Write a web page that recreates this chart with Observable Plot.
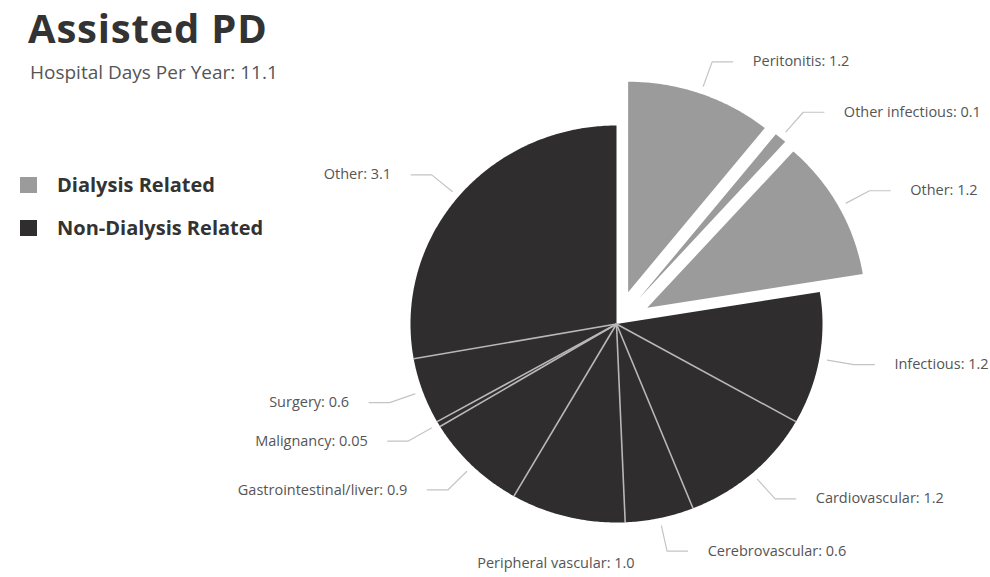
<!DOCTYPE html>
<html>
<head>
<meta charset="utf-8">
<script src="https://cdn.jsdelivr.net/npm/d3@7"></script>
<script src="https://cdn.jsdelivr.net/npm/@observablehq/plot@0.6"></script>
<style>
  body { margin: 0; background: #fff; font-family: "Open Sans", sans-serif; }
  #wrap { position: relative; width: 990px; height: 577px; }
  #chart { position: absolute; left: 0; top: 0; }
  .title { position: absolute; left: 28px; top: 0px; font-size: 40px; line-height: normal; letter-spacing: 0.8px; font-weight: 700; color: #333; white-space: nowrap; }
  .subtitle { position: absolute; left: 30px; top: 63px; font-size: 19px; line-height: 1; color: #555; white-space: nowrap; }
  .legend-item { position: absolute; left: 20px; height: 20px; font-size: 20px; line-height: 1; font-weight: 700; color: #333; white-space: nowrap; }
  .legend-item .sw { position: absolute; left: 0; top: 2px; width: 17px; height: 16px; }
  .legend-item .lbl { position: absolute; left: 37px; top: 0; }
</style>
</head>
<body>
<div id="wrap">
  <div id="chart"></div>
</div>
<script>
// ---- data ----
const title = "Assisted PD";
const subtitle = "Hospital Days Per Year: 11.1";
const categories = ["Peritonitis", "Other infectious", "Other", "Infectious", "Cardiovascular", "Cerebrovascular", "Peripheral vascular", "Gastrointestinal/liver", "Malignancy", "Surgery", "Other"];
const values = [1.2, 0.1, 1.2, 1.2, 1.2, 0.6, 1.0, 0.9, 0.05, 0.6, 3.1];
const valueLabels = ["1.2", "0.1", "1.2", "1.2", "1.2", "0.6", "1.0", "0.9", "0.05", "0.6", "3.1"];
const groups = ["Dialysis Related", "Dialysis Related", "Dialysis Related", "Non-Dialysis Related", "Non-Dialysis Related", "Non-Dialysis Related", "Non-Dialysis Related", "Non-Dialysis Related", "Non-Dialysis Related", "Non-Dialysis Related", "Non-Dialysis Related"];
const legendGroups = ["Dialysis Related", "Non-Dialysis Related"];
const groupColors = ["#9b9b9b", "#2f2d2e"];

// ---- layout constants ----
const OFFSET = 0.17;   // explode distance (in radius units)
const RX = 1.06;       // radius of exploded slices
const HSEG = 0.1;      // horizontal part of leader

// ---- pie geometry ----
const pie = d3.pie().sort(null).value(i => values[i])(d3.range(values.length));
const slices = pie.map(p => {
  const i = p.data;
  return {
    i, name: categories[i], group: groups[i],
    label: categories[i] + ": " + valueLabels[i],
    a0: p.startAngle, a1: p.endAngle, mid: (p.startAngle + p.endAngle) / 2,
    exploded: groups[i] === legendGroups[0]
  };
});

const polyPts = [];
for (const s of slices) {
  const o = s.exploded ? OFFSET : 0, r = s.exploded ? RX : 1;
  const ox = o * Math.sin(s.mid), oy = o * Math.cos(s.mid);
  polyPts.push({key: s.i, group: s.group, x: ox, y: oy});
  const n = Math.max(2, Math.ceil((s.a1 - s.a0) / 0.01));
  for (let k = 0; k <= n; k++) {
    const a = s.a0 + (s.a1 - s.a0) * k / n;
    polyPts.push({key: s.i, group: s.group, x: ox + r * Math.sin(a), y: oy + r * Math.cos(a)});
  }
}

// separators between adjacent non-exploded slices
const seps = [];
for (let k = 1; k < slices.length; k++) {
  if (!slices[k].exploded && !slices[k - 1].exploded) {
    const a = slices[k].a0;
    seps.push({x1: 0, y1: 0, x2: Math.sin(a), y2: Math.cos(a)});
  }
}

// labels and leaders
const leaderPts = [];
const labels = [];
for (const s of slices) {
  const rb = s.exploded ? OFFSET + RX : 1;
  const sn = Math.sin(s.mid), cs = Math.cos(s.mid);
  const side = sn > 0.15 ? "start" : sn < -0.3 ? "end" : "middle";
  if (side === "middle") {
    const rt = rb + 0.24;
    labels.push({x: rt * sn, y: rt * cs, text: s.label, side});
    continue;
  }
  const r1 = rb + 0.04, r2 = rb + 0.17;
  const ex = r2 * sn, ey = r2 * cs;
  const hx = ex + (side === "start" ? HSEG : -HSEG);
  leaderPts.push({key: s.i, x: r1 * sn, y: r1 * cs});
  leaderPts.push({key: s.i, x: ex, y: ey});
  leaderPts.push({key: s.i, x: hx, y: ey});
  labels.push({x: hx, y: ey, text: s.label, side});
}

const textStyle = {fontSize: 14.5, fill: "#555", fontFamily: "Open Sans, sans-serif"};

const chart = Plot.plot({
  width: 990,
  height: 577,
  margin: 0,
  style: {background: "transparent", fontFamily: "Open Sans, sans-serif"},
  x: {domain: [-1, 1], range: [410, 822], axis: null},
  y: {domain: [-1, 1], range: [522, 125], axis: null},
  color: {domain: legendGroups, range: groupColors},
  marks: [
    Plot.line(polyPts, {x: "x", y: "y", z: "key", fill: "group", stroke: "none", curve: "linear-closed"}),
    Plot.link(seps, {x1: "x1", y1: "y1", x2: "x2", y2: "y2", stroke: "#b8b8b8", strokeWidth: 1.6}),
    Plot.line(leaderPts, {x: "x", y: "y", z: "key", stroke: "#c4c4c4", strokeWidth: 1.2}),
    Plot.text(labels.filter(d => d.side === "start"), {x: "x", y: "y", text: "text", textAnchor: "start", dx: 20, ...textStyle}),
    Plot.text(labels.filter(d => d.side === "end"), {x: "x", y: "y", text: "text", textAnchor: "end", dx: -20, ...textStyle}),
    Plot.text(labels.filter(d => d.side === "middle"), {x: "x", y: "y", text: "text", textAnchor: "middle", ...textStyle})
  ]
});

const wrap = document.getElementById("wrap");
document.getElementById("chart").appendChild(chart);

const t = document.createElement("div"); t.className = "title"; t.textContent = title; wrap.appendChild(t);
const st = document.createElement("div"); st.className = "subtitle"; st.textContent = subtitle; wrap.appendChild(st);
const color = chart.scale("color");
legendGroups.forEach((g, k) => {
  const item = document.createElement("div");
  item.className = "legend-item";
  item.style.top = (175 + k * 43) + "px";
  const sw = document.createElement("span"); sw.className = "sw"; sw.style.background = color.apply(g);
  const lb = document.createElement("span"); lb.className = "lbl"; lb.textContent = g;
  item.appendChild(sw); item.appendChild(lb);
  wrap.appendChild(item);
});
</script>
</body>
</html>
